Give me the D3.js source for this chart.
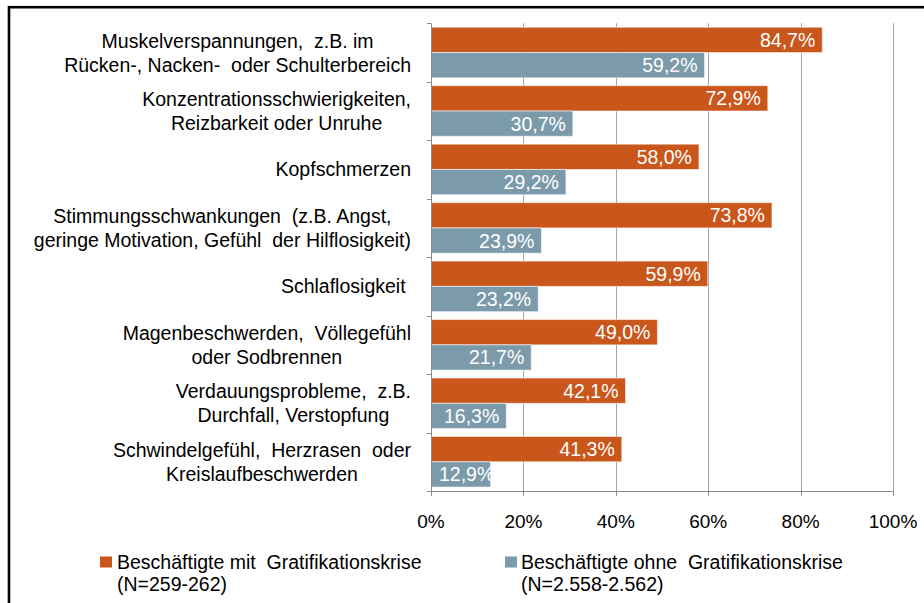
<!DOCTYPE html>
<html>
<head>
<meta charset="utf-8">
<script src="https://cdn.jsdelivr.net/npm/d3@7"></script>
<style>
  html, body { margin: 0; padding: 0; background: #fff; }
  svg { display: block; font-family: "Liberation Sans", Arial, sans-serif; }
</style>
</head>
<body>
<svg id="chart" width="924" height="603"></svg>
<script>
// Symptom categories (each entry is one label, split into lines)
const categories = [
  ["Muskelverspannungen,  z.B. im", "Rücken-, Nacken-  oder Schulterbereich"],
  ["Konzentrationsschwierigkeiten,", "Reizbarkeit oder Unruhe"],
  ["Kopfschmerzen"],
  ["Stimmungsschwankungen  (z.B. Angst,", "geringe Motivation, Gefühl  der Hilflosigkeit)"],
  ["Schlaflosigkeit "],
  ["Magenbeschwerden,  Völlegefühl", "oder Sodbrennen"],
  ["Verdauungsprobleme,  z.B.", "Durchfall, Verstopfung"],
  ["Schwindelgefühl,  Herzrasen  oder", "Kreislaufbeschwerden"]
];

// Share of employees reporting each symptom (%)
const withCrisis    = [84.7, 72.9, 58.0, 73.8, 59.9, 49.0, 42.1, 41.3];
const withoutCrisis = [59.2, 30.7, 29.2, 23.9, 23.2, 21.7, 16.3, 12.9];

const seriesNames = [
  ["Beschäftigte mit  Gratifikationskrise", "(N=259-262)"],
  ["Beschäftigte ohne  Gratifikationskrise", "(N=2.558-2.562)"]
];
const seriesColors = ["#C9561A", "#7B9BAB"];

const xTicks = [0, 20, 40, 60, 80, 100];

const svg = d3.select("#chart");

// Outer frame (only its top and left edges fall inside the page)
svg.append("rect")
  .attr("x", 9).attr("y", 7.2)
  .attr("width", 1200).attr("height", 1200)
  .attr("fill", "none").attr("stroke", "#000").attr("stroke-width", 2.6);

const plot = { left: 431, right: 893, top: 23.3, bottom: 491 };

const x = d3.scaleLinear().domain([0, 100]).range([plot.left, plot.right]);
const y = d3.scaleBand()
  .domain(d3.range(categories.length))
  .range([plot.top, plot.bottom])
  .paddingInner(0.135).paddingOuter(0.0675);
const ySub = d3.scaleBand().domain([0, 1]).range([0, y.bandwidth()]);

const fmt = v => d3.format(".1f")(v).replace(".", ",") + "%";

// Vertical gridlines
svg.append("g").selectAll("line")
  .data(xTicks.slice(1))
  .join("line")
  .attr("x1", d => Math.round(x(d)) + 0.5).attr("x2", d => Math.round(x(d)) + 0.5)
  .attr("y1", plot.top).attr("y2", plot.bottom)
  .attr("stroke", "#A6A6A6").attr("stroke-width", 1);

// Bars
const series = [withCrisis, withoutCrisis];
const groups = svg.append("g").selectAll("g")
  .data(categories.map((c, i) => i))
  .join("g")
  .attr("transform", i => `translate(0,${y(i)})`);

groups.selectAll("rect")
  .data(i => series.map((s, k) => ({ k, v: s[i] })))
  .join("rect")
  .attr("x", x(0))
  .attr("y", d => ySub(d.k))
  .attr("width", d => x(d.v) - x(0))
  .attr("height", ySub.bandwidth())
  .attr("fill", d => seriesColors[d.k])
  .attr("stroke", "#fff").attr("stroke-opacity", 0.55).attr("stroke-width", 1);

// Value labels inside bar ends; short bars keep the label clear of the axis
groups.selectAll("text")
  .data(i => series.map((s, k) => ({ k, v: s[i] })))
  .join("text")
  .attr("y", d => ySub(d.k) + ySub.bandwidth() / 2 + 7)
  .attr("fill", "#fff")
  .attr("font-size", 19.5)
  .text(d => fmt(d.v))
  .each(function (d) {
    const w = this.getComputedTextLength();
    const end = Math.max(x(d.v) - 7, x(0) + 8 + w);
    d3.select(this).attr("x", end).attr("text-anchor", "end");
  });

// Category axis (left)
const yAxisG = svg.append("g");
yAxisG.append("line")
  .attr("x1", plot.left + 0.5).attr("x2", plot.left + 0.5)
  .attr("y1", plot.top).attr("y2", plot.bottom)
  .attr("stroke", "#8C8C8C");
yAxisG.selectAll("line.tick")
  .data(d3.range(categories.length + 1))
  .join("line").attr("class", "tick")
  .attr("x1", plot.left - 4).attr("x2", plot.left)
  .attr("y1", i => Math.round(plot.top + i * y.step()) + 0.5)
  .attr("y2", i => Math.round(plot.top + i * y.step()) + 0.5)
  .attr("stroke", "#8C8C8C");

// Category labels, centred lines in a right-aligned block
const labelRight = 411;
const lineGap = 24;
categories.forEach((lines, i) => {
  const cy = y(i) + y.bandwidth() / 2;
  const t = svg.append("text")
    .attr("font-size", 19.5)
    .attr("fill", "#000")
    .attr("text-anchor", "middle")
    .style("white-space", "pre");
  const first = cy + 7 - (lines.length - 1) * lineGap / 2;
  const spans = lines.map((l, j) => t.append("tspan").attr("y", first + j * lineGap).text(l));
  const w = d3.max(spans, s => s.node().getComputedTextLength());
  spans.forEach(s => s.attr("x", labelRight - w / 2));
});

// Value axis (bottom)
const xAxisG = svg.append("g");
xAxisG.append("line")
  .attr("x1", plot.left).attr("x2", plot.right + 0.5)
  .attr("y1", plot.bottom + 0.5).attr("y2", plot.bottom + 0.5)
  .attr("stroke", "#8C8C8C");
xAxisG.selectAll("line.tick")
  .data(xTicks)
  .join("line").attr("class", "tick")
  .attr("x1", d => Math.round(x(d)) + 0.5).attr("x2", d => Math.round(x(d)) + 0.5)
  .attr("y1", plot.bottom).attr("y2", plot.bottom + 5)
  .attr("stroke", "#8C8C8C");
xAxisG.selectAll("text")
  .data(xTicks)
  .join("text")
  .attr("x", d => x(d))
  .attr("y", 528)
  .attr("text-anchor", "middle")
  .attr("font-size", 19)
  .attr("fill", "#000")
  .text(d => d + "%");

// Legend
const legendPos = [{ sx: 100, tx: 117 }, { sx: 505, tx: 521 }];
seriesNames.forEach((lines, k) => {
  const p = legendPos[k];
  svg.append("rect")
    .attr("x", p.sx).attr("y", 556.5)
    .attr("width", 12).attr("height", 11)
    .attr("fill", seriesColors[k]);
  const t = svg.append("text")
    .attr("font-size", 19.5).attr("fill", "#000")
    .style("white-space", "pre");
  lines.forEach((l, j) => t.append("tspan").attr("x", p.tx).attr("y", 569 + j * 22).text(l));
});
</script>
</body>
</html>
